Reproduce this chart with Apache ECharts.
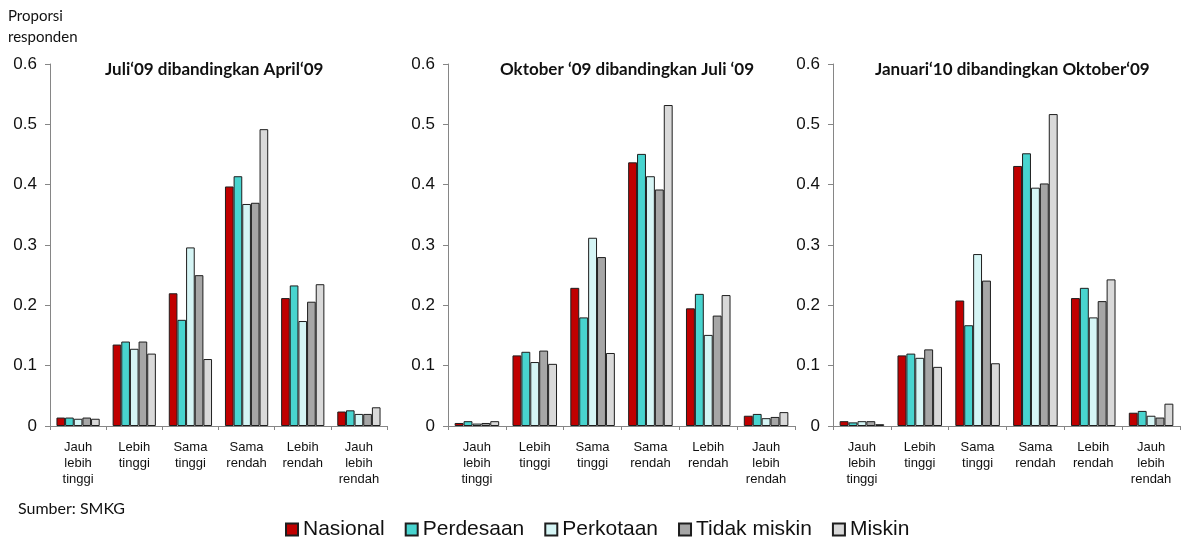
<!DOCTYPE html>
<html>
<head>
<meta charset="utf-8">
<script src="https://cdn.jsdelivr.net/npm/echarts@6/dist/echarts.min.js"></script>
<style>
html,body{margin:0;padding:0;background:#fff;}
#chart{width:1182px;height:538px;}
</style>
</head>
<body>
<div id="chart"></div>
<script>
const categories = ['Jauh\nlebih\ntinggi', 'Lebih\ntinggi', 'Sama\ntinggi', 'Sama\nrendah', 'Lebih\nrendah', 'Jauh\nlebih\nrendah'];
const seriesNames = ['Nasional', 'Perdesaan', 'Perkotaan', 'Tidak miskin', 'Miskin'];
const panelTitles = ['Juli\u201809 dibandingkan April\u201809', 'Oktober \u201809 dibandingkan Juli \u201809', 'Januari\u201810 dibandingkan Oktober\u201809'];
const yTicks = [0, 0.1, 0.2, 0.3, 0.4, 0.5, 0.6];

// rows follow seriesNames order
const panel1Values = [
  [0.014, 0.135, 0.220, 0.397, 0.212, 0.024],
  [0.014, 0.140, 0.176, 0.414, 0.233, 0.026],
  [0.012, 0.128, 0.296, 0.368, 0.174, 0.020],
  [0.014, 0.140, 0.250, 0.370, 0.206, 0.020],
  [0.012, 0.120, 0.111, 0.492, 0.235, 0.031]
];
const panel2Values = [
  [0.005, 0.117, 0.229, 0.437, 0.195, 0.017],
  [0.008, 0.123, 0.180, 0.451, 0.219, 0.020],
  [0.004, 0.106, 0.312, 0.414, 0.151, 0.013],
  [0.005, 0.125, 0.280, 0.392, 0.183, 0.015],
  [0.008, 0.103, 0.121, 0.532, 0.217, 0.023]
];
const panel3Values = [
  [0.008, 0.117, 0.208, 0.431, 0.212, 0.022],
  [0.006, 0.120, 0.167, 0.452, 0.229, 0.025],
  [0.008, 0.113, 0.285, 0.395, 0.180, 0.017],
  [0.008, 0.127, 0.241, 0.402, 0.207, 0.014],
  [0.003, 0.098, 0.104, 0.517, 0.243, 0.037]
];

const colors = ['#C00000', '#48D4CF', '#D5F5F5', '#A6A6A6', '#D9D9D9'];
const panels = [panel1Values, panel2Values, panel3Values];
const grids = [
  {left: 50, width: 337, top: 64, height: 362},
  {left: 448, width: 347, top: 64, height: 362},
  {left: 833, width: 347, top: 64, height: 362}
];
const titleLefts = [105, 500, 875];
const axisGray = '#868686';

const chart = echarts.init(document.getElementById('chart'));

const xAxes = grids.map((g, i) => ({
  type: 'category', gridIndex: i, data: categories,
  axisLine: {lineStyle: {color: axisGray, width: 1}},
  axisTick: {show: true, length: 4, lineStyle: {color: axisGray}},
  axisLabel: {interval: 0, color: '#111', fontFamily: 'Liberation Sans, Arial, sans-serif', fontSize: 13, lineHeight: 16, margin: 13}
}));
const yAxes = grids.map((g, i) => ({
  type: 'value', gridIndex: i, min: yTicks[0], max: yTicks[yTicks.length - 1], interval: 0.1,
  splitLine: {show: false},
  axisLine: {show: true, lineStyle: {color: axisGray, width: 1}},
  axisTick: {show: true, length: 5, lineStyle: {color: axisGray}},
  axisLabel: {color: '#111', fontFamily: 'Liberation Sans, Arial, sans-serif', fontSize: 17, margin: 13,
    formatter: v => String(Math.round(v * 10) / 10)}
}));

const series = [];
panels.forEach((vals, p) => {
  vals.forEach((row, s) => {
    series.push({
      type: 'bar', name: seriesNames[s], xAxisIndex: p, yAxisIndex: p, data: row,
      barGap: '0%', barCategoryGap: '23%',
      itemStyle: {color: colors[s], borderColor: '#1e1e1e', borderWidth: 1},
      emphasis: {disabled: true}
    });
  });
});

const titles = panelTitles.map((t, i) => ({
  text: t, left: titleLefts[i], top: 61, padding: 0,
  textStyle: {fontFamily: 'Lato, Open Sans, sans-serif', fontWeight: 'bold', fontSize: 17, color: '#111'}
}));

chart.setOption({
  animation: false,
  backgroundColor: '#fff',
  title: titles,
  grid: grids,
  xAxis: xAxes,
  yAxis: yAxes,
  legend: {
    data: seriesNames, left: 280, top: 514, itemWidth: 12, itemHeight: 12, itemGap: 20,
    selectedMode: false, icon: 'rect',
    textStyle: {fontFamily: 'Liberation Sans, Arial, sans-serif', fontSize: 21, color: '#111'}
  },
  graphic: [
    {type: 'text', left: 8, top: 6, style: {text: 'Proporsi\nresponden', fontFamily: 'Lato, Open Sans, sans-serif', fontSize: 15, lineHeight: 21, fill: '#111'}},
    {type: 'text', left: 18, top: 501, style: {text: 'Sumber: SMKG', fontFamily: 'Lato, Open Sans, sans-serif', fontSize: 16, fill: '#111'}}
  ],
  series: series
});
</script>
</body>
</html>
